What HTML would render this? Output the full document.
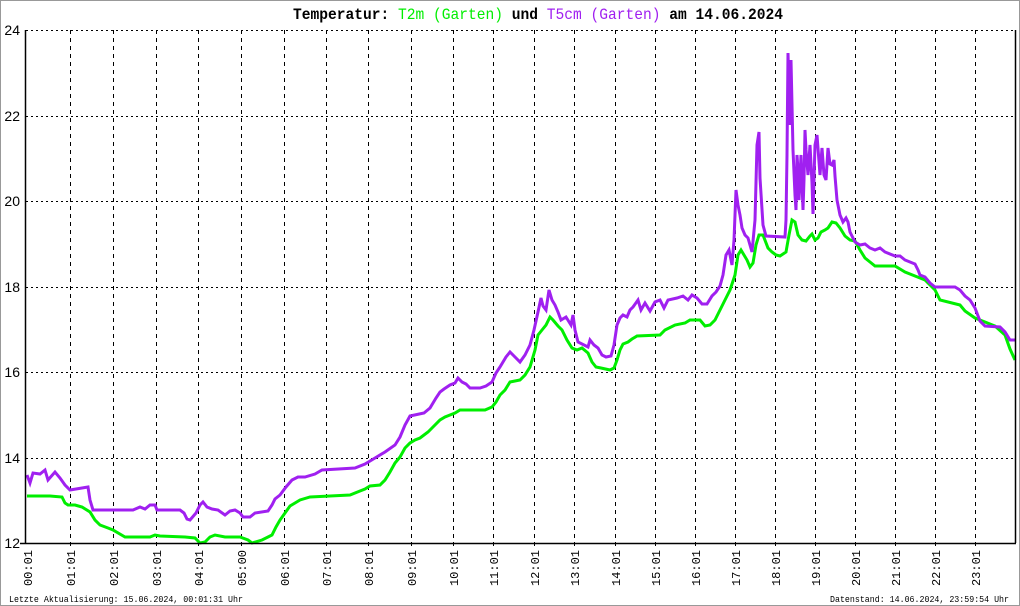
<!DOCTYPE html>
<html><head><meta charset="utf-8"><style>
html,body{margin:0;padding:0;background:#fff}
svg{display:block}
</style></head><body>
<svg width="1020" height="606" xmlns="http://www.w3.org/2000/svg">
<rect x="0.5" y="0.5" width="1019" height="605" fill="#fff" stroke="#999"/>
<text x="293" y="19" textLength="490" lengthAdjust="spacingAndGlyphs" font-family="Liberation Mono, monospace" font-size="16" font-weight="bold" fill="#000">Temperatur: <tspan fill="#00ee00" font-weight="normal">T2m (Garten)</tspan> und <tspan fill="#a020f0" font-weight="normal">T5cm (Garten)</tspan> am 14.06.2024</text>
<g stroke="#000" stroke-width="1" stroke-dasharray="2,3">
<line x1="26" y1="30.5" x2="1015" y2="30.5"/>
<line x1="26" y1="116.5" x2="1015" y2="116.5"/>
<line x1="26" y1="201.5" x2="1015" y2="201.5"/>
<line x1="26" y1="287.5" x2="1015" y2="287.5"/>
<line x1="26" y1="372.5" x2="1015" y2="372.5"/>
<line x1="26" y1="458.5" x2="1015" y2="458.5"/>
</g>
<g stroke="#000" stroke-width="1" stroke-dasharray="4,4">
<line x1="70.5" y1="30" x2="70.5" y2="548"/><line x1="113.5" y1="30" x2="113.5" y2="548"/><line x1="156.5" y1="30" x2="156.5" y2="548"/><line x1="198.5" y1="30" x2="198.5" y2="548"/><line x1="241.5" y1="30" x2="241.5" y2="548"/><line x1="284.5" y1="30" x2="284.5" y2="548"/><line x1="326.5" y1="30" x2="326.5" y2="548"/><line x1="368.5" y1="30" x2="368.5" y2="548"/><line x1="411.5" y1="30" x2="411.5" y2="548"/><line x1="453.5" y1="30" x2="453.5" y2="548"/><line x1="493.5" y1="30" x2="493.5" y2="548"/><line x1="534.5" y1="30" x2="534.5" y2="548"/><line x1="574.5" y1="30" x2="574.5" y2="548"/><line x1="615.5" y1="30" x2="615.5" y2="548"/><line x1="655.5" y1="30" x2="655.5" y2="548"/><line x1="695.5" y1="30" x2="695.5" y2="548"/><line x1="735.5" y1="30" x2="735.5" y2="548"/><line x1="775.5" y1="30" x2="775.5" y2="548"/><line x1="815.5" y1="30" x2="815.5" y2="548"/><line x1="855.5" y1="30" x2="855.5" y2="548"/><line x1="895.5" y1="30" x2="895.5" y2="548"/><line x1="935.5" y1="30" x2="935.5" y2="548"/><line x1="975.5" y1="30" x2="975.5" y2="548"/>
</g>
<polyline fill="none" stroke="#00ee00" stroke-width="3" stroke-linejoin="miter" points="27,496 50,496 62,497 65,503 68,505 75,505 82,507 90,512 95,520 100,525 108,528 113,530 125,537 150,537 155,535 160,536 185,537 195,538 200,543 205,542 210,537 215,535 225,537 240,537 248,540 252,543 262,540 268,537 272,535 276,527 280,520 285,513 290,506 295,503 300,500 310,497 330,496 350,495 360,491 365,489 370,486 380,485 385,480 390,472 395,463 400,457 405,448 410,443 415,440 420,438 428,432 432,428 440,420 445,417 450,415 455,413 460,410 485,410 492,407 496,402 500,395 505,390 510,382 520,380 525,375 530,367 535,350 538,335 542,330 546,325 550,317 553,320 558,326 562,330 567,340 572,348 577,350 582,348 588,353 592,362 596,367 601,368 610,370 614,368 617,360 620,350 623,344 628,342 632,339 637,336 660,335 665,330 675,325 685,323 690,320 700,320 705,326 710,325 715,320 720,310 725,300 730,290 735,275 738,255 741,250 744,255 747,260 750,267 753,263 756,245 759,235 763,235 768,248 772,252 776,255 780,256 786,252 789,235 792,220 795,222 798,235 802,240 806,241 810,236 812,234 815,240 818,238 821,232 825,230 828,228 832,222 836,223 840,228 845,236 850,240 855,241 860,250 865,258 870,262 875,266 895,266 900,269 905,272 915,276 925,280 935,290 940,300 960,305 965,311 975,318 985,322 995,326 1005,335 1010,349 1015,360"/>
<polyline fill="none" stroke="#a020f0" stroke-width="3" stroke-linejoin="miter" points="27,475 30,483 33,473 40,474 45,470 48,480 55,472 60,478 65,485 70,490 88,487 90,500 93,510 120,510 133,510 140,507 145,509 150,505 155,505 157,510 180,510 184,513 187,519 190,520 196,513 200,505 203,502 207,507 212,509 218,510 225,515 230,511 235,510 240,513 243,517 250,517 255,513 268,511 272,505 275,499 280,495 286,487 292,480 298,477 305,477 315,474 322,470 355,468 365,464 375,458 385,452 395,445 400,437 405,425 410,416 424,413 430,408 436,398 440,392 444,389 450,385 455,383 458,378 462,382 466,384 470,388 480,388 486,386 492,382 496,373 500,367 506,357 510,352 515,357 520,362 525,355 530,345 534,330 538,312 541,298 543,306 546,310 549,290 552,300 555,305 558,312 561,320 566,317 571,325 573,315 575,330 578,342 588,347 590,340 594,345 598,348 602,355 606,357 611,356 614,345 617,325 620,318 623,315 627,317 630,310 633,307 638,300 641,310 645,303 650,311 655,302 660,300 664,308 668,300 677,298 683,296 688,300 692,295 697,298 702,304 707,304 712,296 716,292 720,286 723,275 726,255 729,250 732,265 734,240 736,190 738,205 740,215 742,228 745,235 748,238 752,252 755,220 757,145 759,132 760,178 763,225 766,236 785,237 786,220 787,155 788,53 789,90 790,125 791,60 793,150 795,195 796,210 797,155 798,170 799,200 801,155 803,210 804,180 805,130 806,150 808,175 810,145 812,183 813,214 815,145 817,135 820,175 822,148 824,175 826,180 828,148 830,164 832,165 834,160 835,176 837,200 840,215 843,222 846,218 848,222 850,232 855,242 860,245 865,244 870,248 875,250 880,248 885,252 895,256 900,256 905,260 910,262 915,264 918,270 920,275 925,277 930,283 935,287 955,287 960,290 965,296 970,300 975,308 980,321 985,326 1000,327 1005,332 1010,340 1015,340"/>
<g stroke="#000" stroke-width="1.5" fill="none">
<line x1="25.5" y1="30" x2="25.5" y2="543"/>
<line x1="20" y1="543.5" x2="1016" y2="543.5"/>
<line x1="1015.5" y1="30" x2="1015.5" y2="543"/>
</g>
<g font-family="Liberation Sans, sans-serif" font-size="14" fill="#000" text-anchor="end">
<text x="20" y="35">24</text><text x="20" y="121">22</text><text x="20" y="206">20</text><text x="20" y="292">18</text><text x="20" y="377">16</text><text x="20" y="463">14</text><text x="20" y="548">12</text>
</g>
<g font-family="Liberation Mono, monospace" font-size="12" fill="#000" text-anchor="end">
<text transform="translate(32,550) rotate(-90)">00:01</text>
<text transform="translate(75,550) rotate(-90)">01:01</text>
<text transform="translate(118,550) rotate(-90)">02:01</text>
<text transform="translate(161,550) rotate(-90)">03:01</text>
<text transform="translate(203,550) rotate(-90)">04:01</text>
<text transform="translate(246,550) rotate(-90)">05:00</text>
<text transform="translate(289,550) rotate(-90)">06:01</text>
<text transform="translate(331,550) rotate(-90)">07:01</text>
<text transform="translate(373,550) rotate(-90)">08:01</text>
<text transform="translate(416,550) rotate(-90)">09:01</text>
<text transform="translate(458,550) rotate(-90)">10:01</text>
<text transform="translate(498,550) rotate(-90)">11:01</text>
<text transform="translate(539,550) rotate(-90)">12:01</text>
<text transform="translate(579,550) rotate(-90)">13:01</text>
<text transform="translate(620,550) rotate(-90)">14:01</text>
<text transform="translate(660,550) rotate(-90)">15:01</text>
<text transform="translate(700,550) rotate(-90)">16:01</text>
<text transform="translate(740,550) rotate(-90)">17:01</text>
<text transform="translate(780,550) rotate(-90)">18:01</text>
<text transform="translate(820,550) rotate(-90)">19:01</text>
<text transform="translate(860,550) rotate(-90)">20:01</text>
<text transform="translate(900,550) rotate(-90)">21:01</text>
<text transform="translate(940,550) rotate(-90)">22:01</text>
<text transform="translate(980,550) rotate(-90)">23:01</text>
</g>
<g font-family="Liberation Mono, monospace" font-size="9" fill="#000">
<text x="9" y="602" textLength="234" lengthAdjust="spacingAndGlyphs">Letzte Aktualisierung: 15.06.2024, 00:01:31 Uhr</text>
<text x="830" y="602" textLength="179" lengthAdjust="spacingAndGlyphs">Datenstand: 14.06.2024, 23:59:54 Uhr</text>
</g>
</svg>
</body></html>
